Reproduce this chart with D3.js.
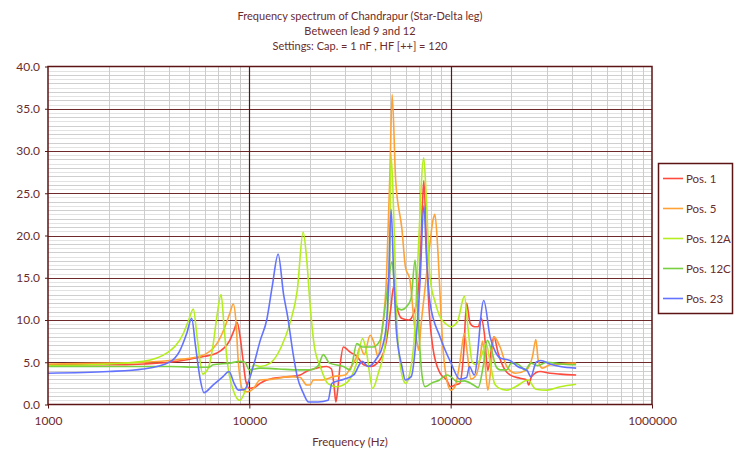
<!DOCTYPE html>
<html><head><meta charset="utf-8">
<script src="https://cdn.jsdelivr.net/npm/d3@7"></script>
<style>
body{margin:0;background:#fff}
text{font-family:Lato,"Open Sans",sans-serif}
</style>
</head><body>
<svg id="c" width="742" height="451"></svg>
<script>
const titleLines = ["Frequency spectrum of Chandrapur (Star-Delta leg)", "Between lead 9 and 12", "Settings: Cap. = 1 nF , HF [++] = 120"];
const xTitle = "Frequency (Hz)";
const seriesNames = ["Pos. 1", "Pos. 5", "Pos. 12A", "Pos. 12C", "Pos. 23"];
const seriesColors = ["#ff4a3d", "#ffa236", "#b4ee1e", "#78d040", "#6373ff"];
const xTicks = [1000, 10000, 100000, 1000000];
const yTicks = [0, 5, 10, 15, 20, 25, 30, 35, 40];

// [frequency Hz, value]
const pos1 = [[1000,4.7],[2000,4.7],[3000,4.8],[4000,5.0],[4900,5.3],[6000,5.7],[6900,6.1],[7500,6.7],[8000,7.6],[8400,8.8],[8700,9.7],[9000,8.0],[9300,5.3],[9600,2.8],[10000,1.9],[10600,2.0],[11300,2.5],[13100,3.1],[15900,3.3],[17900,3.5],[19500,4.0],[21600,4.3],[24200,4.5],[25600,4.2],[26400,2.0],[26900,0.3],[27400,1.5],[28200,4.5],[29300,6.8],[31700,6.2],[34200,5.7],[37000,4.7],[40000,4.5],[44600,5.3],[48000,7.6],[50500,11.5],[52000,13.9],[54000,11.6],[57000,10.2],[62000,10.0],[66000,11.0],[68500,12.8],[70500,16.5],[72500,24],[73600,26.5],[75500,20],[77500,12.8],[81500,6.8],[88600,3.7],[95500,2.9],[100000,2.1],[105000,2.3],[111000,2.5],[116000,6.1],[120000,12.0],[125000,9.6],[131000,9.2],[137000,9.2],[142000,10.2],[147000,8.4],[153000,4.0],[158000,6.0],[164000,8.0],[172000,6.1],[186000,4.1],[197000,3.5],[221000,3.1],[239000,2.9],[244000,2.3],[252000,3.3],[278000,3.9],[312000,3.7],[350000,3.6],[420000,3.5]];
const pos5 = [[1000,4.8],[2000,4.9],[3000,5.0],[4360,5.3],[5690,5.7],[6900,7.2],[7570,9.2],[8000,10.8],[8320,11.9],[8600,9.5],[8800,5.3],[9300,1.7],[9800,1.5],[10500,1.9],[11300,2.9],[13100,3.0],[15900,3.3],[17900,3.2],[19300,2.3],[20000,2.3],[20800,2.9],[23000,2.9],[26200,3.3],[30000,3.5],[31700,4.3],[34200,5.7],[35500,6.8],[37200,5.9],[39800,8.2],[42000,7.0],[43500,5.7],[45600,8.8],[48000,15],[50000,28],[51200,36.7],[53300,26.6],[57300,20.7],[59600,16.3],[62800,14.7],[66000,9.5],[68500,7.0],[69500,6.4],[71000,9],[74000,13],[78000,18],[82000,22.0],[83500,22.5],[86000,19],[89000,12],[91000,7.6],[95000,3.3],[100000,1.7],[105000,2.1],[111000,4.9],[117000,8.4],[121000,6],[126000,3.0],[134000,3.5],[140000,5.5],[144000,7.5],[148000,5],[153000,1.7],[158000,4],[164000,8.0],[176000,6.8],[190000,4.5],[210000,3.7],[238000,4.1],[255000,5.7],[265000,7.7],[272000,5.3],[285000,4.3],[312000,4.7],[420000,4.9]];
const pos12A = [[1000,4.6],[2000,4.8],[2970,5.1],[3900,6.1],[4700,8.4],[5000,10],[5270,11.3],[5500,8],[5870,3.6],[6250,4.3],[6600,7],[6900,10.4],[7240,13.0],[7500,9],[7750,5.3],[8320,1.7],[8980,0.5],[9600,1.8],[10000,3.0],[10500,4.7],[11300,4.5],[12700,4.9],[14400,6.8],[15900,9.6],[17300,13.5],[18500,20.4],[19300,17],[20000,12],[21000,7],[22500,4.5],[24500,2.5],[27000,2.1],[30500,2.6],[34000,4.8],[36500,7.8],[38000,6.5],[41000,1.9],[43700,3.7],[47500,7.6],[49500,15],[50600,29.6],[52500,20],[54000,10],[56000,5],[58000,3],[60000,2.5],[63000,4],[66000,8],[69000,18],[73500,29.2],[75500,25],[79000,15],[84000,12],[88000,10.5],[95000,9.5],[100000,9.2],[108000,9.8],[117000,12.8],[122000,9],[128000,5],[134000,4.7],[142000,5.7],[150000,7.2],[157000,5],[165000,2.5],[172000,2.0],[190000,1.7],[210000,2.1],[242000,2.9],[265000,1.8],[300000,1.7],[350000,2.1],[420000,2.4]];
const pos12C = [[1000,4.5],[2000,4.5],[3000,4.5],[4000,4.5],[5690,4.4],[6300,4.4],[6600,4.7],[8000,4.9],[9000,5.1],[9500,5.0],[10000,4.1],[11300,4.3],[14000,4.2],[17900,4.1],[20000,4.1],[22000,4.6],[23300,5.9],[25000,4.9],[29300,4.5],[31700,4.1],[34200,7.2],[36400,6.8],[41000,6.8],[44600,7.6],[48000,12.8],[51200,16.9],[53500,11.6],[57000,11.2],[60500,11.6],[63500,12.5],[66600,17.1],[69000,10],[72000,3.5],[74600,2.1],[80000,2.5],[88000,2.9],[96000,3.5],[100000,3.3],[108000,2.7],[117000,2.8],[130000,2.3],[137000,2.0],[145000,4.5],[152000,7.6],[160000,6.3],[168000,4.5],[176000,4.1],[190000,4.1],[200000,4.9],[215000,4.8],[235000,4.1],[250000,4.9],[270000,4.6],[300000,5.0],[350000,4.8],[420000,4.7]];
const pos23 = [[1000,3.7],[2000,3.9],[2970,4.2],[4000,5.0],[4500,6.3],[4900,8.5],[5170,10.2],[5400,7],[5700,3],[5950,1.4],[6600,2.3],[7400,3.3],[7930,3.9],[8400,2.5],[8830,1.7],[9500,1.8],[10000,3.0],[10600,5.0],[11300,7.5],[12200,10],[13000,14],[13900,17.8],[14800,13],[15500,10.4],[16500,6],[17300,3.3],[18500,1.4],[19700,0.3],[22000,0.3],[24600,0.5],[25700,2.5],[29500,3.0],[33000,3.5],[36400,5.1],[39000,4.5],[43000,5.5],[46000,7],[48000,9.6],[49000,13.5],[50600,23.1],[52000,16],[53700,8.8],[57300,4.5],[59600,2.9],[63700,3.3],[67900,8.8],[70500,14.7],[73600,23.5],[76000,17],[79000,12],[88600,8.0],[100000,5],[111000,3.0],[120000,3.2],[124000,4.5],[131000,3.5],[146000,12.3],[157000,8],[167000,6.2],[176000,5.5],[197000,5.2],[215000,4.5],[240000,4.0],[250000,3.3],[266000,5.0],[280000,5.2],[312000,4.8],[350000,4.5],[420000,4.3]];
const seriesData = [pos1, pos5, pos12A, pos12C, pos23];

const svg = d3.select("#c");
const P = {l:48, r:652, t:66.5, b:404.5};
const x = d3.scaleLog().domain([1000, 1000000]).range([P.l, P.r]);
const y = d3.scaleLinear().domain([0, 40]).range([P.b, P.t]);
const dark = "#5c1414";
const txt = "#6a2c2c";

svg.append("rect").attr("width",742).attr("height",451).attr("fill","#fff");

// titles
svg.selectAll("text.title").data(titleLines).enter().append("text")
  .attr("x", 360).attr("y", (d,i)=>20+i*15).attr("text-anchor","middle")
  .attr("font-size",11).attr("fill",txt).text(d=>d);

const g = svg.append("g");
// minor horizontal grid
const minorY = d3.range(0.5, 40, 0.5).filter(v => v % 5 !== 0);
g.selectAll("line.my").data(minorY).enter().append("line")
  .attr("x1",P.l).attr("x2",P.r)
  .attr("y1",d=>Math.round(y(d))+0.5).attr("y2",d=>Math.round(y(d))+0.5)
  .attr("stroke", d => (d % 1 === 0) ? "#cfcfcf" : "#e2e2e2").attr("stroke-width",1);
// minor vertical grid
const minorX = [];
[1000,10000,100000].forEach(dec => { for (let k=2;k<=9;k++) minorX.push(dec*k); });
g.selectAll("line.mx").data(minorX).enter().append("line")
  .attr("y1",P.t).attr("y2",P.b)
  .attr("x1",d=>Math.round(x(d))+0.5).attr("x2",d=>Math.round(x(d))+0.5)
  .attr("stroke","#cccccc").attr("stroke-width",1);
// major grid
g.selectAll("line.My").data(yTicks.slice(1,-1)).enter().append("line")
  .attr("x1",P.l).attr("x2",P.r)
  .attr("y1",d=>Math.round(y(d))+0.5).attr("y2",d=>Math.round(y(d))+0.5)
  .attr("stroke","#6e2a2a").attr("stroke-width",1.2);
g.selectAll("line.Mx").data(xTicks.slice(1,-1)).enter().append("line")
  .attr("y1",P.t).attr("y2",P.b)
  .attr("x1",d=>Math.round(x(d))+0.5).attr("x2",d=>Math.round(x(d))+0.5)
  .attr("stroke",dark).attr("stroke-width",1.2);

// series
const line = d3.line().x(d=>x(d[0])).y(d=>y(d[1])).curve(d3.curveMonotoneX);
svg.selectAll("path.s").data(seriesData).enter().append("path")
  .attr("d", line).attr("fill","none")
  .attr("stroke",(d,i)=>seriesColors[i]).attr("stroke-width",1.6)
  .attr("stroke-linejoin","round");

// plot border
svg.append("rect").attr("x",P.l).attr("y",P.t).attr("width",P.r-P.l).attr("height",P.b-P.t)
  .attr("fill","none").attr("stroke",dark).attr("stroke-width",1.5);

// axes
const yAxis = svg.append("g").attr("transform",`translate(${P.l},0)`)
  .call(d3.axisLeft(y).tickValues(yTicks).tickFormat(d3.format(".1f")).tickSize(3).tickPadding(5).tickSizeOuter(0));
yAxis.select(".domain").remove();
yAxis.selectAll("line").attr("stroke",dark);
yAxis.selectAll("text").attr("font-size",12).attr("fill",txt).attr("font-family","Lato, 'Open Sans', sans-serif");

const xAxis = svg.append("g").attr("transform",`translate(0,${P.b})`)
  .call(d3.axisBottom(x).tickValues(xTicks).tickFormat(d3.format("d")).tickSize(4).tickPadding(8).tickSizeOuter(0));
xAxis.select(".domain").remove();
xAxis.selectAll("line").attr("stroke",dark);
xAxis.selectAll("text").attr("font-size",12).attr("fill",txt).attr("font-family","Lato, 'Open Sans', sans-serif");

svg.append("text").attr("x",350).attr("y",446).attr("text-anchor","middle")
  .attr("font-size",11.5).attr("fill",txt).text(xTitle);

// legend
const L = svg.append("g");
L.append("rect").attr("x",658.5).attr("y",163.5).attr("width",74).attr("height",150)
  .attr("fill","#fff").attr("stroke",dark).attr("stroke-width",1.5);
const items = L.selectAll("g.it").data(seriesNames).enter().append("g")
  .attr("transform",(d,i)=>`translate(0,${178.5 + i*30})`);
items.append("line").attr("x1",663).attr("x2",683).attr("y1",0).attr("y2",0)
  .attr("stroke",(d,i)=>seriesColors[i]).attr("stroke-width",1.6);
items.append("text").attr("x",686).attr("y",4).attr("font-size",11.5).attr("fill",txt).text(d=>d);
</script>
</body></html>
